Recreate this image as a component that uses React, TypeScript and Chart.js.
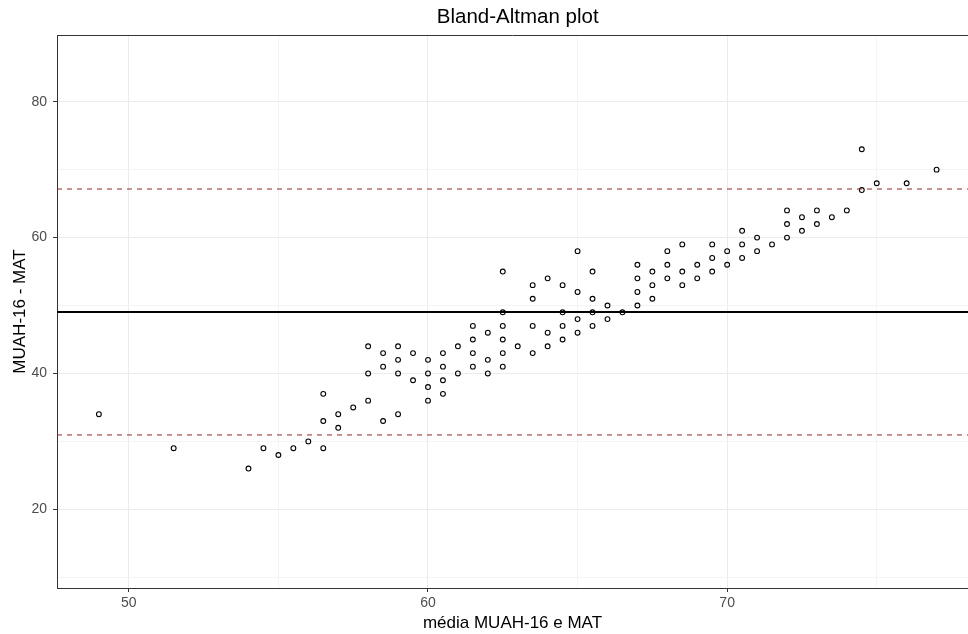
import { useEffect, useRef } from "react";
import { Chart, registerables } from "chart.js";

Chart.register(...registerables);

// Bland-Altman data: mean of the two methods (x) and their difference (y)
const meanValues: number[] = [
  49, 51.5, 54, 54.5, 55, 55.5, 56, 56.5, 56.5, 56.5, 57, 57, 57.5, 58, 58, 58,
  58.5, 58.5, 58.5, 59, 59, 59, 59, 59.5, 59.5, 60, 60, 60, 60, 60.5, 60.5, 60.5,
  60.5, 61, 61, 61.5, 61.5, 61.5, 61.5, 62, 62, 62, 62.5, 62.5, 62.5, 62.5, 62.5,
  62.5, 63, 63.5, 63.5, 63.5, 63.5, 64, 64, 64, 64.5, 64.5, 64.5, 64.5, 65, 65,
  65, 65, 65.5, 65.5, 65.5, 65.5, 66, 66, 66.5, 67, 67, 67, 67, 67.5, 67.5, 67.5,
  68, 68, 68, 68.5, 68.5, 68.5, 69, 69, 69.5, 69.5, 69.5, 70, 70, 70.5, 70.5,
  70.5, 71, 71, 71.5, 72, 72, 72, 72.5, 72.5, 73, 73, 73.5, 74, 74.5, 74.5, 75,
  76, 77,
];
const diffValues: number[] = [
  34, 29, 26, 29, 28, 29, 30, 29, 33, 37, 32, 34, 35, 36, 40, 44,
  33, 41, 43, 34, 40, 42, 44, 39, 43, 36, 38, 40, 42, 37, 39, 41,
  43, 40, 44, 41, 43, 45, 47, 40, 42, 46, 41, 43, 45, 47, 49,
  55, 44, 43, 47, 51, 53, 44, 46, 54, 45, 47, 49, 53, 46, 48,
  52, 58, 47, 49, 51, 55, 48, 50, 49, 50, 52, 54, 56, 51, 53, 55,
  54, 56, 58, 53, 55, 59, 54, 56, 55, 57, 59, 56, 58, 57, 59,
  61, 58, 60, 59, 60, 62, 64, 61, 63, 62, 64, 63, 64, 67, 73, 68,
  68, 70,
];

const biasValue = 49.05;
const upperLimit = 67.15;
const lowerLimit = 30.95;

const xMin = 47.6;
const xMax = 78.05;
const xFullMax = 78.4;
const yMin = 8.42;
const yMax = 89.82;

const xMajorTicks = [50, 60, 70];
const xMinorTicks = [55, 65, 75];
const yMajorTicks = [20, 40, 60, 80];
const yMinorTicks = [10, 30, 50, 70];

const chartTitle = "Bland-Altman plot";
const xTitle = "média MUAH-16 e MAT";
const yTitle = "MUAH-16 - MAT";

const FONT = "'Liberation Sans', Arial, sans-serif";
const MAJOR_GRID = "#EBEBEB";
const MINOR_GRID = "#F4F4F4";
const AXIS_COLOR = "#333333";
const TICK_TEXT = "#4D4D4D";
const LIMIT_COLOR = "#962828";

const panelPlugin = {
  id: "panelPlugin",
  beforeDraw(chart: any) {
    const ctx = chart.ctx;
    ctx.save();
    ctx.fillStyle = "#FFFFFF";
    ctx.fillRect(0, 0, chart.width, chart.height);
    ctx.restore();
  },
  afterDraw(chart: any) {
    const { ctx, chartArea } = chart;
    const xs = chart.scales.x;
    ctx.save();
    ctx.strokeStyle = AXIS_COLOR;
    ctx.lineWidth = 1;
    ctx.beginPath();
    ctx.moveTo(chartArea.left, Math.round(chartArea.top) + 0.5);
    ctx.lineTo(chartArea.right, Math.round(chartArea.top) + 0.5);
    ctx.stroke();
    const cx = (chartArea.left + xs.getPixelForValue(xFullMax)) / 2;
    ctx.fillStyle = "#000000";
    ctx.font = `20.5px ${FONT}`;
    ctx.textAlign = "center";
    ctx.textBaseline = "middle";
    ctx.fillText(chartTitle, cx, 17.5);
    ctx.restore();
  },
};

function makeTicks(major: number[], minor: number[]) {
  return [...major, ...minor].sort((a, b) => a - b).map((v) => ({ value: v }));
}

export default function App() {
  const canvasRef = useRef<HTMLCanvasElement | null>(null);

  useEffect(() => {
    if (!canvasRef.current) return;
    const points = meanValues.map((m, i) => ({ x: m, y: diffValues[i] }));
    const hline = (v: number) => [
      { x: xMin, y: v },
      { x: xMax, y: v },
    ];

    const chart = new Chart(canvasRef.current, {
      type: "scatter",
      data: {
        datasets: [
          {
            data: points,
            pointRadius: 2.4,
            pointBorderWidth: 1.1,
            pointBorderColor: "#000000",
            pointBackgroundColor: "rgba(0,0,0,0)",
            borderColor: "#000000",
            backgroundColor: "rgba(0,0,0,0)",
            order: 2,
          },
          {
            data: hline(biasValue),
            showLine: true,
            borderColor: "#000000",
            borderWidth: 2,
            pointRadius: 0,
            order: 1,
          },
          {
            data: hline(upperLimit),
            showLine: true,
            borderColor: LIMIT_COLOR,
            borderWidth: 1,
            borderDash: [5, 5],
            pointRadius: 0,
            order: 1,
          },
          {
            data: hline(lowerLimit),
            showLine: true,
            borderColor: LIMIT_COLOR,
            borderWidth: 1,
            borderDash: [5, 5],
            pointRadius: 0,
            order: 1,
          },
        ] as any,
      },
      options: {
        animation: false,
        responsive: false,
        devicePixelRatio: 1,
        layout: { autoPadding: false, padding: { top: 35, left: 0, right: 0, bottom: 0 } },
        plugins: {
          legend: { display: false },
          tooltip: { enabled: false },
          title: { display: false },
        },
        scales: {
          x: {
            type: "linear",
            min: xMin,
            max: xMax,
            afterBuildTicks: (scale: any) => {
              scale.ticks = makeTicks(xMajorTicks, xMinorTicks);
            },
            afterFit: (scale: any) => {
              scale.height = 46;
            },
            ticks: {
              autoSkip: false,
              maxRotation: 0,
              padding: 3,
              color: TICK_TEXT,
              font: { family: FONT, size: 14 },
              callback: (v: any) => (xMajorTicks.includes(Number(v)) ? String(v) : ""),
            },
            grid: {
              color: (c: any) => (xMajorTicks.includes(c.tick?.value) ? MAJOR_GRID : MINOR_GRID),
              tickColor: (c: any) => (xMajorTicks.includes(c.tick?.value) ? AXIS_COLOR : "rgba(0,0,0,0)"),
              tickLength: 4,
              lineWidth: 1,
            },
            border: { display: true, color: AXIS_COLOR, width: 1 },
            title: {
              display: true,
              text: xTitle,
              color: "#000000",
              font: { family: FONT, size: 17 },
              padding: { top: 0, bottom: 0 },
            },
          },
          y: {
            type: "linear",
            min: yMin,
            max: yMax,
            afterBuildTicks: (scale: any) => {
              scale.ticks = makeTicks(yMajorTicks, yMinorTicks);
            },
            afterFit: (scale: any) => {
              scale.width = 57;
            },
            ticks: {
              autoSkip: false,
              padding: 6,
              color: TICK_TEXT,
              font: { family: FONT, size: 14 },
              callback: (v: any) => (yMajorTicks.includes(Number(v)) ? String(v) : ""),
            },
            grid: {
              color: (c: any) => (yMajorTicks.includes(c.tick?.value) ? MAJOR_GRID : MINOR_GRID),
              tickColor: (c: any) => (yMajorTicks.includes(c.tick?.value) ? AXIS_COLOR : "rgba(0,0,0,0)"),
              tickLength: 4,
              lineWidth: 1,
            },
            border: { display: true, color: AXIS_COLOR, width: 1 },
            title: {
              display: true,
              text: yTitle,
              color: "#000000",
              font: { family: FONT, size: 17 },
              padding: { top: 10, bottom: 0 },
            },
          },
        },
      } as any,
      plugins: [panelPlugin],
    });

    return () => {
      chart.destroy();
    };
  }, []);

  return (
    <div style={{ position: "absolute", left: 0, top: 0, width: 968, height: 634 }}>
      <canvas ref={canvasRef} width={968} height={634} style={{ display: "block" }} />
    </div>
  );
}
